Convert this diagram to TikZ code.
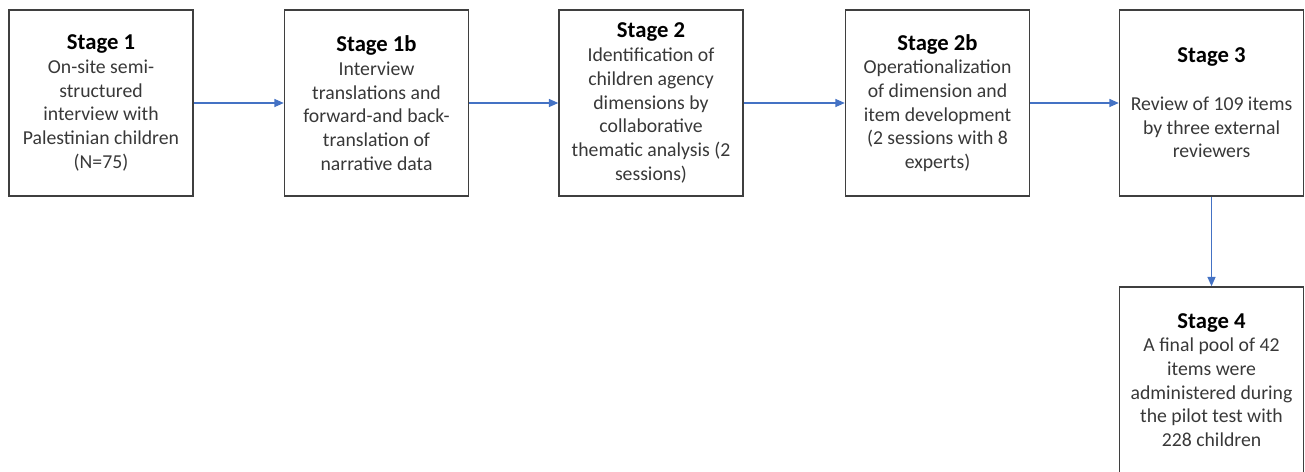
\documentclass[tikz,border=0pt]{standalone}
\usepackage{fontspec}
\setmainfont{Carlito}
\usetikzlibrary{shapes}
\usetikzlibrary{arrows.meta}
\definecolor{boxgray}{HTML}{3F3F3F}
\definecolor{arrowblue}{HTML}{4472C4}
\newcommand{\stg}[1]{{\fontsize{17}{21}\selectfont\bfseries\color{black} Stage #1}}
\tikzset{
    stagebox/.style = {rectangle, draw=boxgray, line width=1.1pt, align=center,
        minimum width=138pt, minimum height=139.5pt, inner sep=2pt,
        text=black!78, font=\fontsize{14.8}{17.8}\selectfont},
    edgeb/.style = {-{Triangle[length=7pt,width=6pt]}, line width=0.9pt, arrowblue}
}
\begin{document}
\begin{tikzpicture}[x=0.75pt,y=0.75pt]
  \useasboundingbox (0,0) rectangle (1305,471);
  \clip (0,0) rectangle (1305,471);

  \node[stagebox] at (101,368) (s1) {\stg{1}\\On-site semi-\\structured\\interview with\\Palestinian children\\(N=75)};
  \node[stagebox] at (376.5,368) (s1b) {\stg{1b}\\Interview\\translations and\\forward-and back-\\translation of\\narrative data};
  \node[stagebox] at (651,368) (s2) {\stg{2}\\Identification of\\children agency\\dimensions by\\collaborative\\thematic analysis (2\\sessions)};
  \node[stagebox] at (937.5,368) (s2b) {\stg{2b}\\Operationalization\\of dimension and\\item development\\(2 sessions with 8\\experts)};
  \node[stagebox] at (1211.5,368) (s3) {\stg{3}\\[17.8pt]Review of 109 items\\by three external\\reviewers};
  \node[stagebox] at (1211.5,91) (s4) {\stg{4}\\A final pool of 42\\items were\\administered during\\the pilot test with\\228 children};

  \draw[edgeb] (s1) -- (s1b);
  \draw[edgeb] (s1b) -- (s2);
  \draw[edgeb] (s2) -- (s2b);
  \draw[edgeb] (s2b) -- (s3);
  \draw[edgeb] (s3) -- (s4);
\end{tikzpicture}
\end{document}
